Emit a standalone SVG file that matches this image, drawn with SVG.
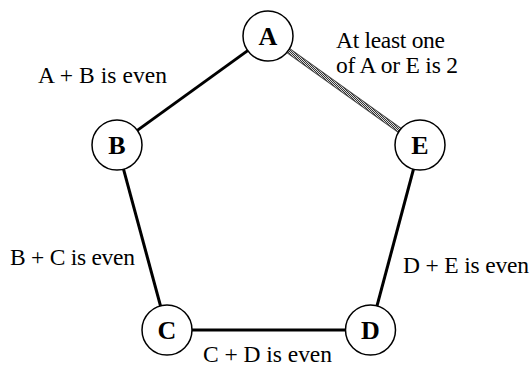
<svg xmlns="http://www.w3.org/2000/svg" width="532" height="370" viewBox="0 0 532 370">
<style>
.node circle{fill:#fff;stroke:#000;stroke-width:1.5}
.node text{font-family:"Liberation Serif","Times New Roman",serif;font-weight:bold;font-size:26px;text-anchor:middle;fill:#000}
.lbl{font-family:"Liberation Serif","Times New Roman",serif;font-size:23.5px;fill:#000}
.edge{stroke:#000;stroke-width:3;fill:none}
</style>
<defs>
<pattern id="dither" width="2" height="2" patternUnits="userSpaceOnUse">
<rect width="2" height="2" fill="#ddd"/>
<rect width="1" height="1" fill="#333"/>
<rect x="1" y="1" width="1" height="1" fill="#333"/>
</pattern>
</defs>
<rect width="532" height="370" fill="#fff"/>
<g id="connectors">
<line class="edge" x1="247.7" y1="50.6" x2="137.3" y2="130.4"/>
<line x1="288.3" y1="50.6" x2="399.7" y2="130.4" stroke="#444" stroke-width="6"/>
<line x1="288.3" y1="50.6" x2="399.7" y2="130.4" stroke="url(#dither)" stroke-width="4"/>
<line class="edge" x1="123.5" y1="169.1" x2="160.5" y2="305.9"/>
<line class="edge" x1="413.5" y1="169.2" x2="377" y2="305.9"/>
<line class="edge" x1="192" y1="330" x2="345.5" y2="330" stroke-width="4"/>
</g>
<g id="A" class="node"><circle cx="268" cy="36" r="25"/><text x="268" y="45">A</text></g>
<g id="B" class="node"><circle cx="117" cy="145" r="25"/><text x="117" y="154">B</text></g>
<g id="E" class="node"><circle cx="420" cy="145" r="25"/><text x="420" y="154">E</text></g>
<g id="C" class="node"><circle cx="167" cy="330" r="25"/><text x="167" y="339">C</text></g>
<g id="D" class="node"><circle cx="370.5" cy="330" r="25"/><text x="370.5" y="339">D</text></g>
<g id="labels">
<text class="lbl" x="38" y="83" textLength="129" lengthAdjust="spacing">A + B is even</text>
<text class="lbl" x="336" y="48" textLength="109" lengthAdjust="spacing">At least one</text>
<text class="lbl" x="336" y="73" textLength="122" lengthAdjust="spacing">of A or E is 2</text>
<text class="lbl" x="10" y="265" textLength="125" lengthAdjust="spacing">B + C is even</text>
<text class="lbl" x="203" y="362" textLength="129" lengthAdjust="spacing">C + D is even</text>
<text class="lbl" x="403" y="273" textLength="126" lengthAdjust="spacing">D + E is even</text>
</g>
</svg>
